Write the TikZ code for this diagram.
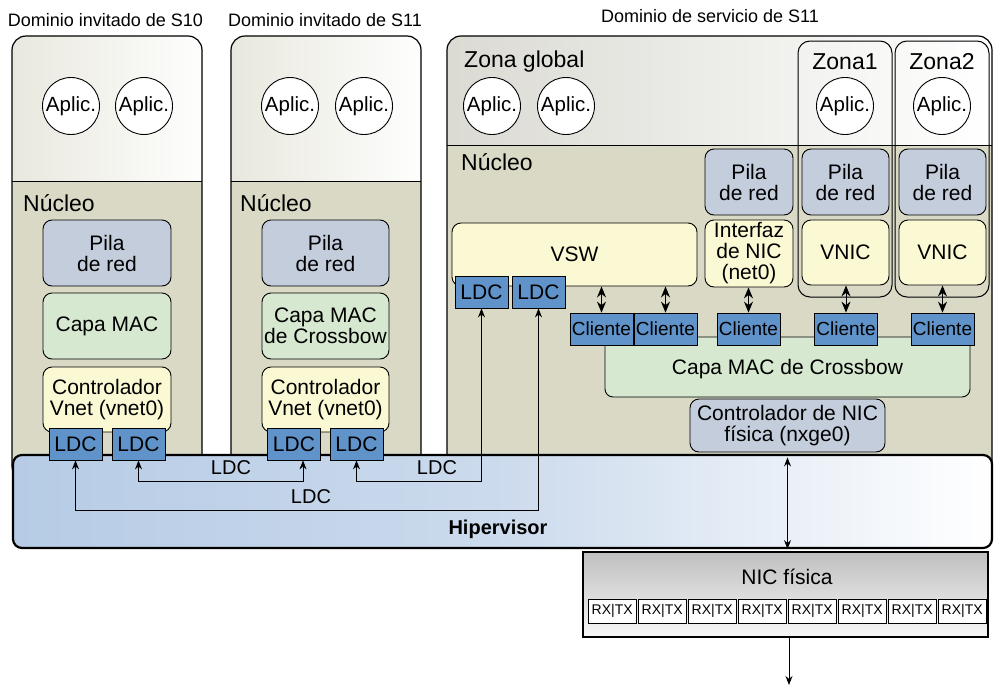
\documentclass[tikz,border=0pt]{standalone}
\usepackage{fontspec}
\setmainfont{Liberation Sans}
\usetikzlibrary{arrows.meta,shapes.geometric}
\definecolor{pilac}{HTML}{C3CDDC}
\definecolor{macc}{HTML}{D6E8D0}
\definecolor{yelc}{HTML}{FBF8D4}
\definecolor{ldcc}{HTML}{5F93C9}
\definecolor{nucc}{HTML}{D9D9C6}
\definecolor{topc}{HTML}{E9E8DE}
\definecolor{hypc}{HTML}{B6CBE5}
\tikzset{
 dom/.style={draw=black, line width=1.2pt, rounded corners=14pt},
 blk/.style={draw=black, line width=0.9pt, rounded corners=9pt, align=center, inner sep=0pt, font=\fontsize{21}{21}\selectfont},
 pila/.style={blk, fill=pilac},
 mac/.style={blk, fill=macc},
 yel/.style={blk, fill=yelc},
 ldc/.style={draw=black, line width=0.8pt, fill=ldcc, inner sep=0pt, minimum width=53pt, minimum height=32pt, font=\fontsize{21}{21}\selectfont},
 cli/.style={ldc, minimum width=63pt, font=\fontsize{19}{19}\selectfont},
 app/.style={circle, draw=black, fill=white, line width=0.9pt, minimum size=57pt, inner sep=0pt, font=\fontsize{20.5}{20}\selectfont},
 lbl/.style={inner sep=0pt, font=\fontsize{18}{18}\selectfont},
 big/.style={inner sep=0pt, font=\fontsize{23}{23}\selectfont},
 arr/.style={line width=0.9pt, -{Stealth[length=9pt,width=7pt]}},
 darr/.style={line width=0.9pt, {Stealth[length=9pt,width=7pt]}-{Stealth[length=9pt,width=7pt]}},
 sdarr/.style={line width=1pt, {Stealth[length=11pt,width=9pt]}-{Stealth[length=11pt,width=9pt]}},
 rxtx/.style={draw=black, line width=0.7pt, fill=white, inner sep=0pt, minimum width=48.3pt, minimum height=24pt, font=\fontsize{14}{14}\selectfont},
}
\begin{document}
\begin{tikzpicture}[x=1pt,y=-1pt]
\useasboundingbox (0,0) rectangle (994,686);

% domain titles
\node[lbl] (t1) at (105.5,20) {Dominio invitado de S10};
\node[lbl] (t2) at (325,20) {Dominio invitado de S11};
\node[lbl] (t3) at (710,16) {Dominio de servicio de S11};

% guest domain S10
\fill[nucc, rounded corners=14pt] (12,36) rectangle (202,480);
\begin{scope}
\clip[rounded corners=14pt] (12,36) rectangle (202,480);
\shade[left color=topc, right color=white!95!topc] (12,36) rectangle (202,181);
\end{scope}
\draw (12,181) -- (202,181);
\draw[dom] (12,36) rectangle (202,480);

% guest domain S11
\fill[nucc, rounded corners=14pt] (231,36) rectangle (421,480);
\begin{scope}
\clip[rounded corners=14pt] (231,36) rectangle (421,480);
\shade[left color=topc, right color=white!95!topc] (231,36) rectangle (421,181);
\end{scope}
\draw (231,181) -- (421,181);
\draw[dom] (231,36) rectangle (421,480);

% service domain
\fill[nucc, rounded corners=14pt] (447,36) rectangle (992,480);
\begin{scope}
\clip[rounded corners=14pt] (447,36) rectangle (992,480);
\shade[left color=topc!90!black!80, right color=white] (447,36) rectangle (992,145);
\end{scope}
\draw (447,145) -- (992,145);
\draw[dom] (447,36) rectangle (992,480);
\draw[line width=1pt, rounded corners=12pt] (798,41) rectangle (892,297);
\draw[line width=1pt, rounded corners=12pt] (895,41) rectangle (989,297);

% hypervisor
\node[draw=black, line width=2.2pt, rounded corners=9pt, minimum width=979pt, minimum height=93pt, inner sep=0pt,
  left color=hypc, right color=white, middle color=hypc!70] (hyp) at (502.5,501.5) {};
\node[inner sep=0pt, font=\fontsize{20}{20}\selectfont\bfseries] (hyplbl) at (498,529) {Hipervisor};

% S10 contents
\node[app] (a1) at (71,106) {Aplic.};
\node[app] (a2) at (144,106) {Aplic.};
\node[big, anchor=west] (n1) at (23,203) {Núcleo};
\node[pila, minimum width=128pt, minimum height=66pt] (p1) at (107,253) {Pila\\de red};
\node[mac, minimum width=128pt, minimum height=66pt] (m1) at (107,326) {Capa MAC};
\node[yel, minimum width=128pt, minimum height=65pt] (c1) at (107,399.5) {Controlador\\Vnet (vnet0)};
\node[ldc] (s10l1) at (75.5,444) {LDC};
\node[ldc] (s10l2) at (138.5,444) {LDC};

% S11 guest contents
\node[app] (a3) at (290,106) {Aplic.};
\node[app] (a4) at (364,106) {Aplic.};
\node[big, anchor=west] (n2) at (240,203) {Núcleo};
\node[pila, minimum width=127pt, minimum height=66pt] (p2) at (325.5,253) {Pila\\de red};
\node[mac, minimum width=127pt, minimum height=66pt] (m2) at (325.5,326) {Capa MAC\\de Crossbow};
\node[yel, minimum width=127pt, minimum height=65pt] (c2) at (325.5,399.5) {Controlador\\Vnet (vnet0)};
\node[ldc] (s11l1) at (294,444) {LDC};
\node[ldc] (s11l2) at (356.5,444) {LDC};

% service domain contents
\node[big, anchor=west] (zg) at (464,62) {Zona global};
\node[app] (a5) at (492,106) {Aplic.};
\node[app] (a6) at (566,106) {Aplic.};
\node[big] (z1) at (845,62) {Zona1};
\node[big] (z2) at (942,62) {Zona2};
\node[app] (a7) at (845,106) {Aplic.};
\node[app] (a8) at (942,106) {Aplic.};
\node[big, anchor=west] (n3) at (461,162) {Núcleo};
\node[pila, minimum width=88pt, minimum height=66pt] (p3) at (749,182) {Pila\\de red};
\node[pila, minimum width=87pt, minimum height=66pt] (p4) at (845.5,182) {Pila\\de red};
\node[pila, minimum width=87pt, minimum height=66pt] (p5) at (942.5,182) {Pila\\de red};
\node[yel, minimum width=245pt, minimum height=63pt] (vsw) at (574.5,254.5) {VSW};
\node[yel, minimum width=88pt, minimum height=67pt] (nif) at (749,253.5) {Interfaz\\de NIC\\(net0)};
\node[yel, minimum width=87pt, minimum height=65pt] (vn1) at (845.5,252.5) {VNIC};
\node[yel, minimum width=87pt, minimum height=65pt] (vn2) at (942.5,252.5) {VNIC};
\node[ldc] (vl1) at (481.5,292) {LDC};
\node[ldc] (vl2) at (538.5,292) {LDC};
\node[mac, rounded corners=8pt, minimum width=365pt, minimum height=60pt] (cmac) at (787.5,367) {};
\node[inner sep=0pt, font=\fontsize{21}{21}\selectfont] (cmaclbl) at (787.5,369) {Capa MAC de Crossbow};
\node[cli] (cl1) at (601.5,329) {Cliente};
\node[cli] (cl2) at (665.5,329) {Cliente};
\node[cli] (cl3) at (748.5,329) {Cliente};
\node[cli] (cl4) at (846,329) {Cliente};
\node[cli] (cl5) at (942.5,329) {Cliente};
\node[pila, minimum width=195pt, minimum height=53pt] (ctrl) at (787.5,425.5) {Controlador de NIC\\física (nxge0)};

\draw[sdarr] (cl1.north) -- (cl1.north |- vsw.south);
\draw[sdarr] (cl2.north) -- (cl2.north |- vsw.south);
\draw[sdarr] (cl3.north) -- (cl3.north |- nif.south);
\draw[sdarr] (cl4.north) -- (cl4.north |- vn1.south);
\draw[sdarr] (cl5.north) -- (cl5.north |- vn2.south);

% LDC connectors
\draw[darr] (s10l2.south) -- ++(0,21) -| ([xshift=9pt]s11l1.south);
\draw[darr] (s11l2.south) -- ++(0,21) -| (vl1.south);
\draw[darr] (s10l1.south) -- ++(0,50) -| (vl2.south);
\node[inner sep=0pt, font=\fontsize{20}{20}\selectfont] (lab1) at (231,468) {LDC};
\node[inner sep=0pt, font=\fontsize{20}{20}\selectfont] (lab2) at (437,468) {LDC};
\node[inner sep=0pt, font=\fontsize{20}{20}\selectfont] (lab3) at (311,497) {LDC};

% physical NIC
\node[draw=black, line width=2.5pt, minimum width=405pt, minimum height=85pt, inner sep=0pt,
  top color=black!25, bottom color=black!3] (nic) at (785.5,594.5) {};
\node[inner sep=0pt, font=\fontsize{21}{21}\selectfont] (niclbl) at (787,577) {NIC física};
\foreach \i in {0,...,7}{
  \node[rxtx] (rx\i) at (612.15+50*\i,611) {RX|TX};
}
\draw[darr] ([yshift=-5pt]ctrl.south) -- (ctrl.south |- hyp.south);
\coordinate (out) at (789,685);
\draw[arr] (nic.south -| out) -- (out);
\end{tikzpicture}
\end{document}
